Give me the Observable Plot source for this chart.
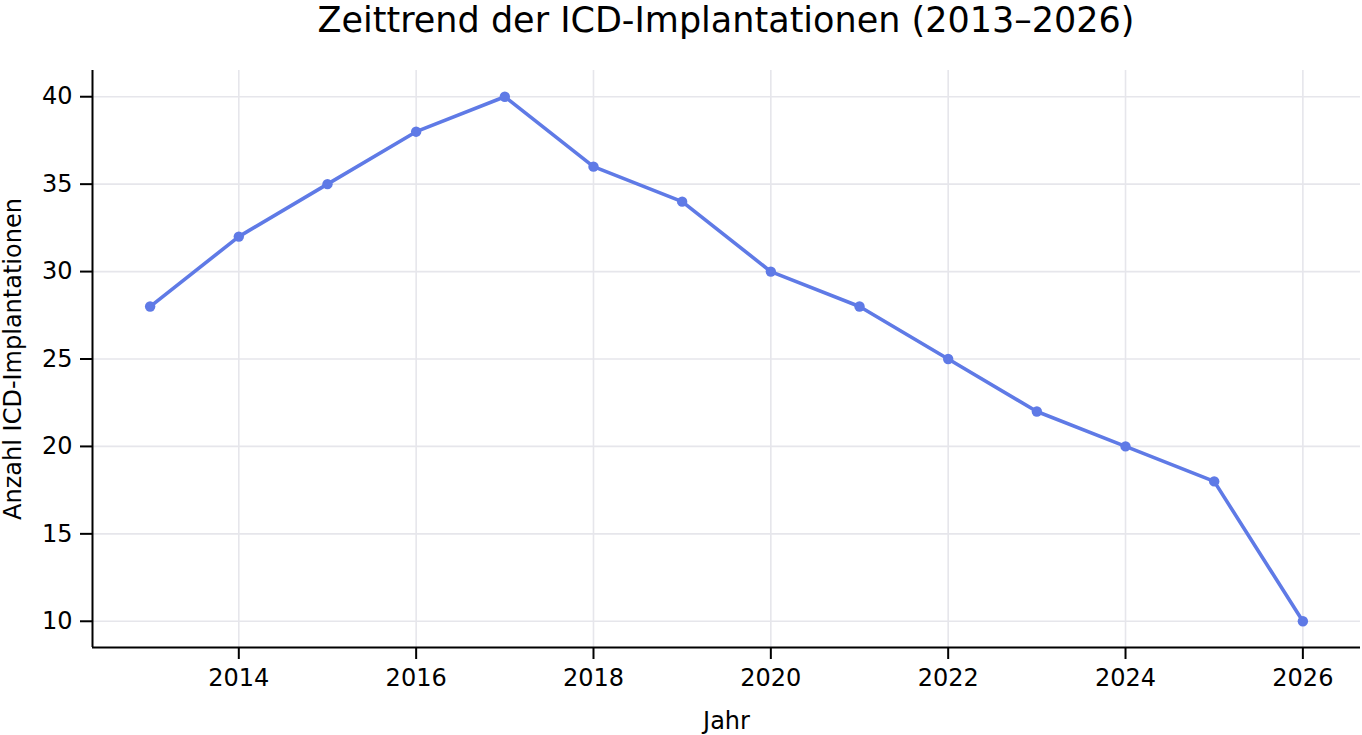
<!DOCTYPE html>
<html>
<head>
<meta charset="utf-8">
<script src="https://cdn.jsdelivr.net/npm/d3@7"></script>
<script src="https://cdn.jsdelivr.net/npm/@observablehq/plot@0.6"></script>
<style>
  html, body { margin: 0; padding: 0; background: #fff; }
  #title { font-family: "DejaVu Sans", sans-serif; font-size: 35px; line-height: 41px; height: 41px; text-align: center; color: #000; width: 1362px; box-sizing: border-box; padding-left: 92px; padding-right: 2px; white-space: nowrap; }
  #chart svg { display: block; }
</style>
</head>
<body>
<div id="title">Zeittrend der ICD-Implantationen (2013–2026)</div>
<div id="chart"></div>
<script>
const years = [2013, 2014, 2015, 2016, 2017, 2018, 2019, 2020, 2021, 2022, 2023, 2024, 2025, 2026];
const counts = [28, 32, 35, 38, 40, 36, 34, 30, 28, 25, 22, 20, 18, 10];
const xTicks = [2014, 2016, 2018, 2020, 2022, 2024, 2026];
const yTicks = [10, 15, 20, 25, 30, 35, 40];
const xLabel = "Jahr";
const yLabel = "Anzahl ICD-Implantationen";

const data = years.map((y, i) => ({year: y, count: counts[i]}));
const color = "#5f7ae6";
const xDomain = [2012.35, 2026.65];
const yDomain = [8.5, 41.5];

const chart = Plot.plot({
  width: 1362,
  height: 694,
  marginTop: 29,
  marginBottom: 88,
  marginLeft: 92,
  marginRight: 2,
  style: {fontFamily: "DejaVu Sans, sans-serif", fontSize: "24px", color: "#000", background: "#fff", overflow: "visible"},
  x: {domain: xDomain, label: null},
  y: {domain: yDomain, label: null},
  marks: [
    Plot.gridX(xTicks, {stroke: "#e6e6eb", strokeOpacity: 1, strokeWidth: 1.6}),
    Plot.gridY(yTicks, {stroke: "#e6e6eb", strokeOpacity: 1, strokeWidth: 1.6}),
    Plot.ruleX([xDomain[0]], {stroke: "#000", strokeWidth: 2}),
    Plot.ruleY([yDomain[0]], {stroke: "#000", strokeWidth: 2}),
    Plot.axisX(xTicks, {tickSize: 12, tickPadding: 9, strokeWidth: 2, fontSize: 24, tickFormat: d => String(d), label: null}),
    Plot.axisY(yTicks, {tickSize: 12, tickPadding: 8, strokeWidth: 2, fontSize: 24, tickFormat: d => String(d), label: null}),
    Plot.line(data, {x: "year", y: "count", stroke: color, strokeWidth: 3.6}),
    Plot.dot(data, {x: "year", y: "count", r: 5.2, fill: color, stroke: "none"}),
    Plot.text([xLabel], {frameAnchor: "bottom", text: d => d, dy: 64, lineAnchor: "top", fontSize: 24, fill: "#000"}),
    Plot.text([yLabel], {frameAnchor: "left", text: d => d, dx: -79, rotate: -90, lineAnchor: "middle", textAnchor: "middle", fontSize: 24, fill: "#000"})
  ]
});
document.getElementById("chart").appendChild(chart);
</script>
</body>
</html>
